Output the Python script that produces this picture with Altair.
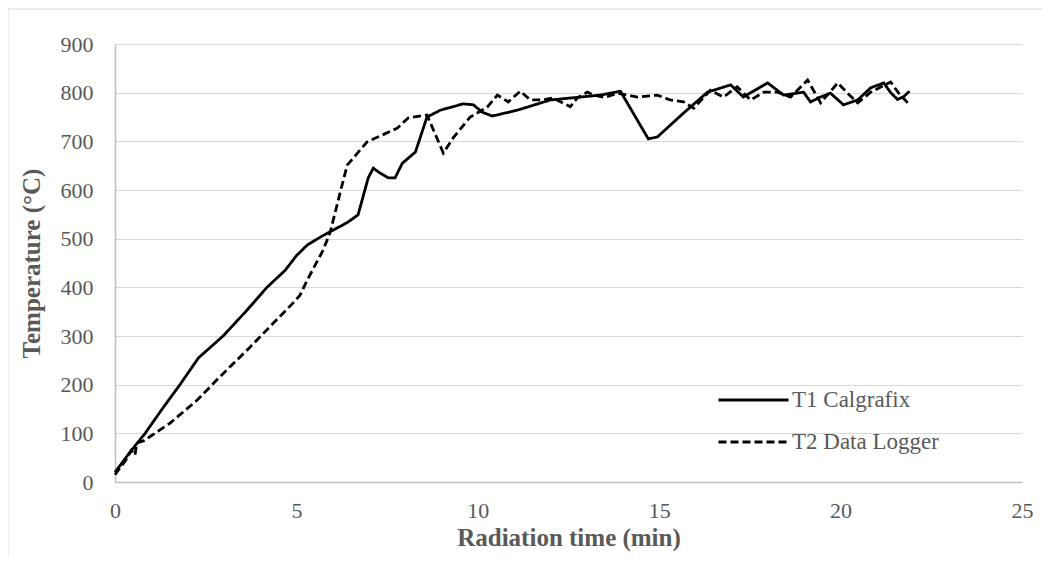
import altair as alt
import pandas as pd

t1_time = [0, 0.4, 0.83, 1.3, 1.79, 2.3, 2.98, 3.6, 4.19, 4.69, 5.0, 5.3, 5.7, 6.0, 6.4, 6.7,
           6.98, 7.12, 7.3, 7.53, 7.72, 7.92, 8.28, 8.6, 8.97, 9.6, 9.88, 10.12, 10.4, 11.09,
           12.0, 13.38, 13.93, 14.7, 14.95, 15.67, 16.33, 16.97, 17.32, 17.99, 18.43, 18.98,
           19.17, 19.45, 19.72, 20.08, 20.47, 20.83, 21.19, 21.38, 21.57, 21.74, 21.9]
t1_temp = [20, 60, 100, 150, 200, 255, 300, 350, 400, 435, 465, 487, 505, 517, 533, 549,
           625, 645, 635, 625, 625, 655, 678, 750, 764, 777, 775, 760, 752, 764,
           785, 795, 803, 705, 709, 758, 801, 816, 791, 820, 795, 801,
           781, 791, 799, 775, 785, 810, 820, 800, 786, 792, 803]

t2_time = [0, 0.3, 0.45, 0.55, 0.6, 0.8, 1.0, 1.24, 1.5, 1.85, 2.26, 2.81, 3.72, 4.36, 4.91,
           5.1, 5.3, 5.74, 5.93, 6.2, 6.4, 6.95, 7.31, 7.78, 8.08, 8.6, 9.05, 9.32, 9.79,
           10.26, 10.54, 10.84, 11.17, 11.45, 11.78, 12.08, 12.55, 12.74, 13.02, 13.19, 13.5,
           13.85, 14.4, 14.95, 15.3, 15.67, 15.95, 16.41, 16.77, 17.15, 17.52, 17.88, 18.26,
           18.62, 19.09, 19.45, 19.92, 20.19, 20.47, 20.83, 21.38, 21.6, 21.85]
t2_temp = [15, 45, 65, 55, 80, 85, 95, 107, 120, 142, 168, 210, 277, 326, 368,
           384, 415, 477, 513, 593, 651, 699, 711, 727, 748, 754, 676, 707, 750,
           770, 795, 781, 803, 785, 785, 789, 771, 789, 801, 795, 790,
           799, 791, 795, 785, 781, 768, 805, 791, 812, 785, 801, 801,
           791, 826, 779, 820, 799, 779, 801, 822, 799, 779]

series = ["T1 Calgrafix", "T2 Data Logger"]

df = pd.concat([
    pd.DataFrame({"time": t1_time, "temp": t1_temp, "series": series[0], "order": range(len(t1_time))}),
    pd.DataFrame({"time": t2_time, "temp": t2_temp, "series": series[1], "order": range(len(t2_time))}),
])

W, H = 907, 438
font = "Liberation Serif"
grey = "#595959"

frame = alt.Chart(pd.DataFrame({"a": [0]})).mark_rect(
    fillOpacity=0, stroke="#d9d9d9", strokeWidth=1
).encode(
    x=alt.value(-107), x2=alt.value(W + 25), y=alt.value(-35), y2=alt.value(H + 80)
)

lines = alt.Chart(df).mark_line(strokeWidth=2.8, color="black").encode(
    x=alt.X("time:Q", scale=alt.Scale(domain=[0, 25], nice=False),
            axis=alt.Axis(title="Radiation time (min)", values=[0, 5, 10, 15, 20, 25],
                          grid=False, ticks=False, domainColor="#bfbfbf", domainWidth=1.5,
                          labelFlush=False, labelOverlap=False,
                          labelPadding=18, titlePadding=4)),
    y=alt.Y("temp:Q", scale=alt.Scale(domain=[0, 900], nice=False),
            axis=alt.Axis(title="Temperature (°C)", values=list(range(0, 901, 100)),
                          grid=True, gridColor="#d9d9d9", gridWidth=1.2, ticks=False,
                          domainColor="#bfbfbf", domainWidth=1.5,
                          labelFlush=False, labelOverlap=False,
                          labelPadding=22, titlePadding=16)),
    strokeDash=alt.StrokeDash("series:N",
                              scale=alt.Scale(domain=series, range=[[1, 0], [8, 4]]),
                              legend=alt.Legend(title=None, orient="none", legendX=602, legendY=344,
                                                symbolType="stroke", symbolSize=4900,
                                                symbolStrokeWidth=3, symbolStrokeColor="black",
                                                labelFont=font, labelFontSize=23, labelColor=grey,
                                                labelOffset=2, clipHeight=24, rowPadding=18,
                                                padding=0)),
    detail="series:N",
    order="order:Q",
)

chart = alt.layer(frame, lines).properties(
    width=W, height=H,
    autosize=alt.AutoSizeParams(type="none"),
    padding={"left": 107, "top": 36, "right": 20, "bottom": 75},
).configure_view(stroke=None).configure_axis(
    labelFont=font, labelFontSize=22, labelColor=grey,
    titleFont=font, titleFontSize=25, titleFontWeight="bold", titleColor=grey,
)

chart.save("out.html", embed_options={"renderer": "svg", "actions": False})
